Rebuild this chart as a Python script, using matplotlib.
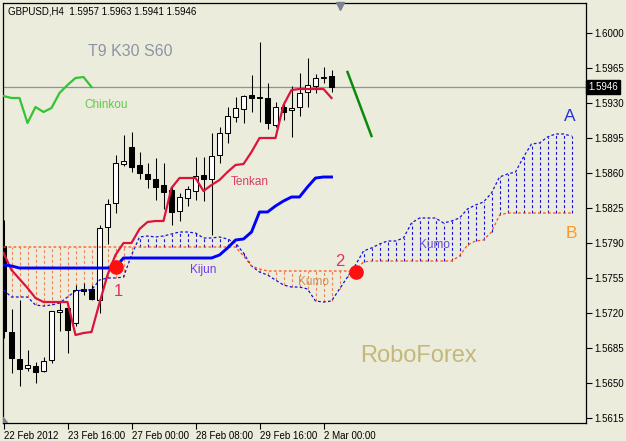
import matplotlib
matplotlib.use("Agg")
import matplotlib.pyplot as plt
import numpy as np

plt.rcParams['font.family'] = ['Liberation Sans', 'DejaVu Sans']

# ---------------- data (GBPUSD H4) ----------------
opens = [1.5787, 1.5701, 1.5674, 1.5665, 1.5667, 1.5662, 1.5673, 1.5721, 1.5725, 1.5710,
         1.5744, 1.5744, 1.5733, 1.5806, 1.5830, 1.5869, 1.5886, 1.5868, 1.5859, 1.5854,
         1.5848, 1.5843, 1.5822, 1.5835, 1.5842, 1.5858, 1.5854, 1.5878, 1.5900, 1.5916,
         1.5924, 1.5938, 1.5936, 1.5935, 1.5908, 1.5926, 1.5923, 1.5926, 1.5941, 1.5947,
         1.5955, 1.5957]
highs = [1.5813, 1.5724, 1.5733, 1.5683, 1.5671, 1.5676, 1.5722, 1.5731, 1.5728, 1.5748,
         1.5750, 1.5748, 1.5808, 1.5834, 1.5878, 1.5898, 1.5901, 1.5881, 1.5870, 1.5875,
         1.5870, 1.5846, 1.5840, 1.5847, 1.5876, 1.5876, 1.5900, 1.5906, 1.5926, 1.5936,
         1.5938, 1.5958, 1.5991, 1.5950, 1.5931, 1.5932, 1.5947, 1.5960, 1.5975, 1.5959,
         1.5966, 1.5963]
lows = [1.5695, 1.5660, 1.5647, 1.5662, 1.5650, 1.5661, 1.5670, 1.5702, 1.5680, 1.5707,
        1.5738, 1.5733, 1.5720, 1.5789, 1.5820, 1.5867, 1.5861, 1.5854, 1.5845, 1.5833,
        1.5824, 1.5808, 1.5812, 1.5827, 1.5833, 1.5832, 1.5798, 1.5870, 1.5890, 1.5911,
        1.5910, 1.5921, 1.5911, 1.5904, 1.5906, 1.5913, 1.5896, 1.5917, 1.5926, 1.5940,
        1.5950, 1.5941]
closes = [1.5702, 1.5675, 1.5664, 1.5668, 1.5661, 1.5672, 1.5722, 1.5723, 1.5703, 1.5743,
          1.5742, 1.5734, 1.5805, 1.5829, 1.5870, 1.5872, 1.5866, 1.5860, 1.5854, 1.5846,
          1.5841, 1.5821, 1.5836, 1.5844, 1.5857, 1.5854, 1.5877, 1.5900, 1.5917, 1.5925,
          1.5937, 1.5935, 1.5935, 1.5910, 1.5926, 1.5921, 1.5925, 1.5940, 1.5948, 1.5955,
          1.5956, 1.5946]

tenkan = [1.5780, 1.5763, 1.5754, 1.5745, 1.5735, 1.5731, 1.5731, 1.5731, 1.5731, 1.5698,
          1.5700, 1.5701, 1.5730, 1.5758, 1.5778, 1.5790, 1.5790, 1.5804, 1.5811, 1.5812,
          1.5812, 1.5845, 1.5855, 1.5855, 1.5855, 1.5842, 1.5848, 1.5853, 1.5861, 1.5868,
          1.5869, 1.5881, 1.5895, 1.5895, 1.5895, 1.5928, 1.5943, 1.5944, 1.5944, 1.5944,
          1.5944, 1.5935]
kijun = [1.5768, 1.5767] + [1.5765] * 12 + [1.5766] + [1.5775] * 12 + \
        [1.5778, 1.5785, 1.5793, 1.5794, 1.5801, 1.5821, 1.5821, 1.5827, 1.5832, 1.5836,
         1.5836, 1.5846, 1.5855, 1.5856, 1.5856]
span_a = [1.5743, 1.5736, 1.5736, 1.5736, 1.5728, 1.5727, 1.5728, 1.5730, 1.5736, 1.5742,
          1.5743, 1.5743, 1.5753, 1.5755, 1.5755, 1.5756, 1.5778, 1.5796, 1.5797, 1.5796,
          1.5797, 1.5799, 1.5801, 1.5801, 1.5800, 1.5795, 1.5795, 1.5796, 1.5794, 1.5790,
          1.5780, 1.5767, 1.5761, 1.5758, 1.5753, 1.5748, 1.5746, 1.5746, 1.5744, 1.5732,
          1.5731, 1.5732, 1.5744, 1.5756, 1.5768, 1.5782, 1.5785, 1.5789, 1.5792, 1.5792,
          1.5795, 1.5810, 1.5815, 1.5815, 1.5815, 1.5810, 1.5812, 1.5815, 1.5824, 1.5828,
          1.5831, 1.5840, 1.5856, 1.5859, 1.5861, 1.5876, 1.5889, 1.5890, 1.5896, 1.5899,
          1.5899, 1.5897]
span_b = [1.5786] * 30 + [1.5777, 1.5767, 1.5764] + [1.5762] * 11 + [1.5763, 1.5771] + \
         [1.5772] * 11 + [1.5777, 1.5788, 1.5792, 1.5793, 1.5801, 1.5818] + [1.5820] * 9

shift = 30
signal_bars = [14, 44]
signal_prices = [1.5766, 1.5761]
signal_labels = ['1', '2']
arrow_bars = [43, 46]
arrow_prices = [1.5961, 1.5897]

xtick_bars = [0, 8, 16, 24, 32, 40]
xtick_labels = ['22 Feb 2012', '23 Feb 16:00', '27 Feb 00:00', '28 Feb 08:00',
                '29 Feb 16:00', '2 Mar 00:00']
ytick_vals = [1.5615, 1.5650, 1.5685, 1.5720, 1.5755, 1.5790, 1.5825, 1.5860,
              1.5895, 1.5930, 1.5965, 1.6000]
last_price = 1.5946

# ---------------- drawing ----------------
bg = '#ECECDC'
W, H = 626, 441
fig = plt.figure(figsize=(W / 100, H / 100), dpi=100)
fig.patch.set_facecolor(bg)
ax = fig.add_axes([3 / W, 18 / H, 583 / W, 420 / H])
ax.set_facecolor(bg)
ax.set_xlim(-0.0625, 72.8125)
ax.set_ylim(1.5610, 1.6030)

n = len(closes)
xs = np.arange(n)
xc = np.arange(len(span_a))

# cloud hatch
for j in xc:
    a, b = span_a[j], span_b[j]
    col = '#1010E0' if a > b else '#F27F55'
    ax.vlines(j, min(a, b), max(a, b), colors=col, lw=0.8,
              linestyles=(0, (2.6, 2.2)), zorder=1)
ax.plot(xc, span_a, color='#1010E0', lw=0.9, ls=(0, (2.2, 1.8)), zorder=3)
ax.plot(xc, span_b, color='#FF5010', lw=0.9, ls=(0, (2.2, 1.8)), zorder=3)

# candles
ax.vlines(xs, lows, highs, colors='black', lw=0.75, zorder=2)
for i in range(n):
    o, c = opens[i], closes[i]
    lo, hi = min(o, c), max(o, c)
    h = max(hi - lo, 0.00005)
    fc = 'white' if c >= o else 'black'
    ax.bar(i, h, bottom=lo, width=0.6, color=fc, edgecolor='black', lw=0.75, zorder=2.5)

# chinkou
ax.plot(xs[:n - shift], closes[shift:], color='#33C433', lw=1.6, zorder=4)
# tenkan / kijun
ax.plot(xs, tenkan, color='#DC143C', lw=1.6, zorder=4)
ax.plot(xs, kijun, color='#0000FF', lw=2.1, zorder=4)

# last price line
ax.axhline(last_price, color='#8A939E', lw=0.9, zorder=1.5)

# signals
ax.plot(signal_bars, signal_prices, 'o', color='#FF1010', ms=9.5, zorder=5)
ax.text(signal_bars[0] + 0.3, signal_prices[0] - 0.0024, signal_labels[0], color='#DD3366',
        fontsize=12, ha='center', va='center', zorder=6)
ax.text(signal_bars[1] - 2, signal_prices[1] + 0.0011, signal_labels[1], color='#DD3366',
        fontsize=12, ha='center', va='center', zorder=6)

# green arrow line
ax.plot(arrow_bars, arrow_prices, color='#0A8A0A', lw=1.8, zorder=4)

# texts
tkw = dict(transform=ax.transAxes, ha='center', va='center', zorder=6)
def axp(px, py):
    return (px - 3) / 583, 1 - (py - 3) / 420

ax.text(*axp(130, 52), 'T9 K30 S60', color='#8C95A3', fontsize=11.5, **tkw)
ax.text(*axp(106, 105), 'Chinkou', color='#5CCC44', fontsize=8.5, **tkw)
ax.text(*axp(250, 182), 'Tenkan', color='#D84060', fontsize=8.5, **tkw)
ax.text(*axp(203, 270), 'Kijun', color='#7038F8', fontsize=8.5, **tkw)
ax.text(*axp(313, 282), 'Kumo', color='#D49050', fontsize=8.5, **tkw)
ax.text(*axp(434, 245), 'Kumo', color='#6048D8', fontsize=8.5, **tkw)
ax.text(*axp(570, 117), 'A', color='#2233DD', fontsize=12.5, **tkw)
ax.text(*axp(571, 233), 'B', color='#FF9922', fontsize=12.5, **tkw)
ax.text(*axp(418, 356), 'RoboForex', color='#C2B87A', fontsize=17, **tkw)
ax.text(*axp(8, 11), 'GBPUSD,H4  1.5957 1.5963 1.5941 1.5946', color='black',
        fontsize=7, transform=ax.transAxes, ha='left', va='center', zorder=6)

# small markers
tri_x, tri_y = axp(340, 3)
ax.plot([tri_x], [tri_y - 0.006], marker='v', color='#7A8490', ms=6,
        transform=ax.transAxes, clip_on=False, zorder=6)
ax.fill([0, 0.008, 0], [0, 0, 0.014], color='#7A8490', transform=ax.transAxes, zorder=6)

# axes styling
for s in ax.spines.values():
    s.set_color('black')
    s.set_linewidth(0.9)
ax.set_xticks(xtick_bars)
ax.set_xticklabels(xtick_labels, fontsize=7)
for lbl in ax.get_xticklabels():
    lbl.set_ha('left')
ax.tick_params(axis='x', length=4, width=0.8, pad=2, colors='black')
ax.yaxis.tick_right()
ax.set_yticks(ytick_vals)
ax.set_yticklabels([f'{v:.4f}' for v in ytick_vals], fontsize=7)
ax.tick_params(axis='y', length=4, width=0.8, pad=2, colors='black')

# last price label box
ax.text(1.004, (last_price - 1.5610) / 0.0420, f'{last_price:.4f}', transform=ax.transAxes,
        fontsize=7, color='white', ha='left', va='center', zorder=7,
        bbox=dict(boxstyle='square,pad=0.2', fc='black', ec='black'))

fig.savefig('out.png', dpi=100, facecolor=bg)
